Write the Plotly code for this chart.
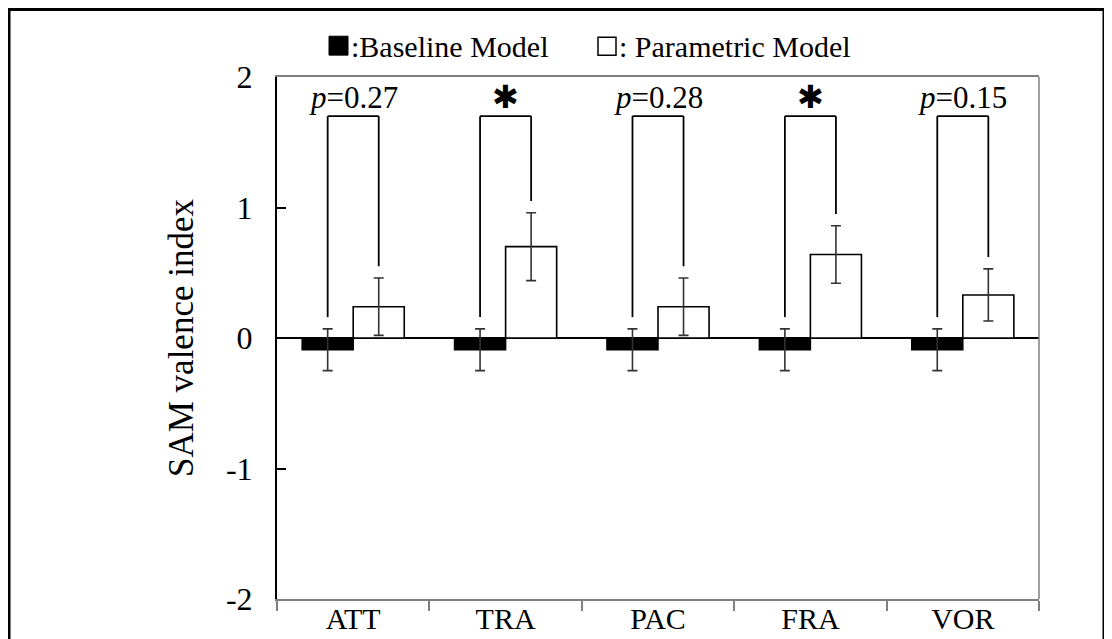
import plotly.graph_objects as go

# ---------------- data ----------------
categories = ["ATT", "TRA", "PAC", "FRA", "VOR"]
baseline_vals = [-0.09, -0.09, -0.09, -0.09, -0.09]
baseline_err = [0.16, 0.16, 0.16, 0.16, 0.16]
parametric_vals = [0.24, 0.70, 0.24, 0.64, 0.33]
parametric_err = [0.22, 0.26, 0.22, 0.22, 0.20]
sig_labels = ["<i>p</i>=0.27", "✱", "<i>p</i>=0.28", "✱", "<i>p</i>=0.15"]
y_ticks = [-2, -1, 0, 1, 2]
bracket_top = 1.70
legend_labels = [":Baseline Model", ": Parametric Model"]

# ---------------- layout constants ----------------
W, H = 1112, 639
OFF = 8  # browser body margin
L, T = 277 - OFF, 77 - OFF
R = W - (1039 - OFF)
B = H - (602 - OFF)
PW, PH = W - L - R, H - T - B
SERIF = "Liberation Serif, Times New Roman, serif"
BAR_OFF = 0.1675   # half of one bar's width (category units)
LEG_GAP = 0.09


def px_x(px):
    return (px - OFF - L) / PW


def px_y(py):
    return (H - B - (py - OFF)) / PH


fig = go.Figure()
fig.add_trace(go.Bar(
    x=categories, y=baseline_vals, name="Baseline Model",
    marker=dict(color="black", line=dict(color="black", width=1.5)),
    error_y=dict(type="data", array=baseline_err, color="#333333", thickness=1.6, width=5),
))
fig.add_trace(go.Bar(
    x=categories, y=parametric_vals, name="Parametric Model",
    marker=dict(color="white", line=dict(color="black", width=1.6)),
    error_y=dict(type="data", array=parametric_err, color="#333333", thickness=1.6, width=5),
))

shapes = []
annotations = []
line_style = dict(color="black", width=1.8)
for i, cat in enumerate(categories):
    xl, xr = i - BAR_OFF, i + BAR_OFF
    yl = baseline_vals[i] + baseline_err[i] + LEG_GAP
    yr = parametric_vals[i] + parametric_err[i] + LEG_GAP
    shapes.append(dict(type="line", xref="x", yref="y", x0=xl, x1=xl, y0=yl, y1=bracket_top, line=line_style))
    shapes.append(dict(type="line", xref="x", yref="y", x0=xl, x1=xr, y0=bracket_top, y1=bracket_top, line=line_style))
    shapes.append(dict(type="line", xref="x", yref="y", x0=xr, x1=xr, y0=yr, y1=bracket_top, line=line_style))
    lab = sig_labels[i]
    if lab == "✱":
        annotations.append(dict(x=cat, y=bracket_top, xref="x", yref="y", text=lab, showarrow=False,
                                yanchor="bottom", yshift=-2,
                                font=dict(family="DejaVu Sans", size=32, color="black")))
    else:
        annotations.append(dict(x=cat, y=bracket_top, xref="x", yref="y", text=lab, showarrow=False,
                                yanchor="bottom", yshift=-1,
                                font=dict(family=SERIF, size=31, color="black")))

# right frame line (grey)
shapes.append(dict(type="line", xref="paper", yref="paper", x0=1, x1=1, y0=0, y1=1,
                   line=dict(color="#7f7f7f", width=1.5)))
# outer border
shapes.append(dict(type="rect", xref="paper", yref="paper",
                   x0=px_x(9), x1=px_x(1104), y0=px_y(680), y1=px_y(9),
                   line=dict(color="black", width=3), fillcolor="rgba(0,0,0,0)", layer="above"))
# legend squares
shapes.append(dict(type="rect", xref="paper", yref="paper",
                   x0=px_x(329), x1=px_x(348), y0=px_y(55), y1=px_y(36),
                   line=dict(color="black", width=1), fillcolor="black"))
shapes.append(dict(type="rect", xref="paper", yref="paper",
                   x0=px_x(598), x1=px_x(616), y0=px_y(55), y1=px_y(37),
                   line=dict(color="black", width=1.5), fillcolor="white"))
annotations.append(dict(x=px_x(349), y=px_y(46), xref="paper", yref="paper", text=legend_labels[0],
                        showarrow=False, xanchor="left", yanchor="middle",
                        font=dict(family=SERIF, size=30, color="black")))
annotations.append(dict(x=px_x(617), y=px_y(46), xref="paper", yref="paper", text=legend_labels[1],
                        showarrow=False, xanchor="left", yanchor="middle",
                        font=dict(family=SERIF, size=30, color="black")))

fig.update_layout(
    width=W, height=H,
    margin=dict(l=L, r=R, t=T, b=B, pad=0),
    paper_bgcolor="white", plot_bgcolor="white",
    barmode="group", bargap=0.33, bargroupgap=0,
    showlegend=False,
    shapes=shapes, annotations=annotations,
    font=dict(family=SERIF, color="black"),
)
fig.update_xaxes(
    type="category", tickson="boundaries", ticks="outside", ticklen=10, tickwidth=1.5,
    tickcolor="#7f7f7f", showline=True, linecolor="#7f7f7f", linewidth=1.5, mirror=True,
    showgrid=False, zeroline=False, tickfont=dict(family=SERIF, size=30, color="black"),
    range=[-0.5, 4.5], ticklabelstandoff=-8,
)
fig.update_yaxes(
    range=[-2, 2], tickvals=y_ticks, ticktext=[str(v) for v in y_ticks],
    ticks="inside", ticklen=9, tickwidth=1.5, tickcolor="black",
    showline=True, linecolor="black", linewidth=2, showgrid=False,
    zeroline=True, zerolinecolor="black", zerolinewidth=2,
    tickfont=dict(family=SERIF, size=32, color="black"), ticklabelstandoff=16,
    title=dict(text="SAM valence index", font=dict(family=SERIF, size=35, color="black"), standoff=22),
)

fig.write_html("out.html")
